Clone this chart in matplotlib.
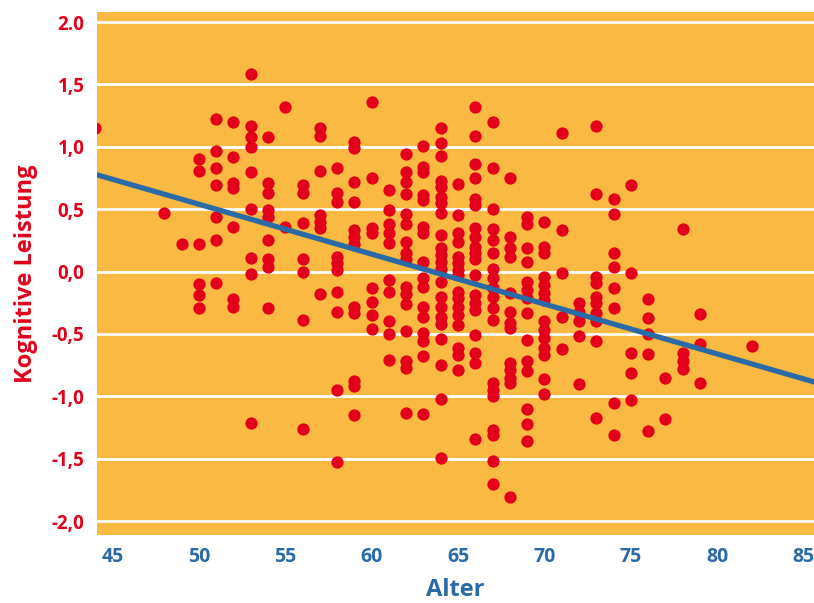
import numpy as np
import matplotlib
matplotlib.use("Agg")
import matplotlib.pyplot as plt

# Werte: je Alter die Werte der kognitiven Leistung
alter_gruppen = [44, 48, 49, 50, 51, 52, 53, 54, 55, 56, 57, 58, 59, 60, 61,
                 62, 63, 64, 65, 66, 67, 68, 69, 70, 71, 72, 73, 74, 75, 76,
                 77, 78, 79, 82]
leistung_gruppen = [
    [1.15],
    [0.47],
    [0.22],
    [0.90, 0.81, 0.22, -0.10, -0.19, -0.29],
    [1.22, 0.97, 0.83, 0.69, 0.44, 0.25, -0.09],
    [1.20, 0.92, 0.71, 0.67, 0.36, -0.22, -0.28],
    [1.58, 1.17, 1.08, 1.00, 0.80, 0.50, 0.11, -0.02, -1.21],
    [1.08, 0.71, 0.63, 0.49, 0.44, 0.25, 0.10, 0.04, -0.29],
    [1.32, 0.36],
    [0.69, 0.63, 0.39, 0.10, 0.00, -0.39, -1.26],
    [1.15, 1.09, 0.81, 0.45, 0.40, 0.35, -0.18],
    [0.83, 0.63, 0.56, 0.12, 0.07, 0.01, -0.16, -0.32, -0.95, -1.53],
    [1.04, 0.99, 0.72, 0.56, 0.33, 0.28, 0.22, -0.28, -0.33, -0.88, -0.92,
     -1.15],
    [1.36, 0.75, 0.35, 0.31, -0.13, -0.24, -0.35, -0.46],
    [0.65, 0.49, 0.38, 0.31, 0.23, -0.07, -0.16, -0.40, -0.50, -0.71],
    [0.94, 0.80, 0.72, 0.62, 0.46, 0.38, 0.24, 0.15, 0.10, -0.12, -0.18,
     -0.26, -0.48, -0.72, -0.77, -1.13],
    [1.01, 0.84, 0.80, 0.61, 0.57, 0.36, 0.31, 0.08, -0.05, -0.12, -0.28,
     -0.36, -0.49, -0.56, -0.68, -1.14],
    [1.15, 1.03, 0.93, 0.73, 0.68, 0.60, 0.55, 0.47, 0.29, 0.19, 0.13, 0.08,
     0.02, -0.08, -0.20, -0.28, -0.36, -0.42, -0.54, -0.75, -1.02, -1.49],
    [0.70, 0.45, 0.31, 0.24, 0.12, 0.07, 0.01, -0.03, -0.16, -0.21, -0.28,
     -0.35, -0.43, -0.61, -0.67, -0.79],
    [1.32, 1.09, 0.86, 0.75, 0.58, 0.53, 0.35, 0.28, 0.20, 0.15, 0.10, -0.03,
     -0.19, -0.25, -0.31, -0.51, -0.65, -0.73, -1.34],
    [1.20, 0.83, 0.50, 0.34, 0.25, 0.15, 0.02, -0.05, -0.13, -0.20, -0.29,
     -0.39, -0.89, -0.95, -1.00, -1.27, -1.31, -1.52, -1.70],
    [0.75, 0.28, 0.19, 0.12, -0.17, -0.32, -0.41, -0.45, -0.73, -0.79, -0.85,
     -0.89, -1.81],
    [0.44, 0.38, 0.19, 0.08, -0.08, -0.15, -0.21, -0.33, -0.55, -0.72, -0.80,
     -1.10, -1.22, -1.36],
    [0.40, 0.20, 0.15, -0.04, -0.11, -0.17, -0.23, -0.40, -0.47, -0.53, -0.61,
     -0.67, -0.86, -0.98],
    [1.11, 0.33, -0.01, -0.36, -0.62],
    [-0.25, -0.32, -0.40, -0.52, -0.90],
    [1.17, 0.62, -0.04, -0.09, -0.20, -0.25, -0.33, -0.40, -0.56, -1.17],
    [0.58, 0.46, 0.15, 0.04, -0.13, -0.29, -1.05, -1.31],
    [0.69, -0.01, -0.65, -0.81, -1.03],
    [-0.22, -0.37, -0.50, -0.66, -1.28],
    [-0.85, -1.18],
    [0.34, -0.65, -0.72, -0.78],
    [-0.34, -0.58, -0.89],
    [-0.60],
]

# Regressionsgerade
achsenabschnitt = 2.54
steigung = -0.040

x_ticks = [45, 50, 55, 60, 65, 70, 75, 80, 85]
y_ticks = [2.0, 1.5, 1.0, 0.5, 0.0, -0.5, -1.0, -1.5, -2.0]
y_ticklabels = ["2.0", "1,5", "1,0", "0,5", "0,0", "-0,5", "-1,0", "-1,5", "-2,0"]

rot = "#e2001a"
blau = "#2a6aa6"
orange = "#f9b942"

alter = []
leistung = []
for a, werte in zip(alter_gruppen, leistung_gruppen):
    alter += [a] * len(werte)
    leistung += werte

plt.rcParams["font.family"] = ["Open Sans", "DejaVu Sans"]

fig = plt.figure(figsize=(8.14, 6.03), dpi=100)
ax = fig.add_axes([0.119, 0.113, 0.881, 0.867])
ax.set_facecolor(orange)

ax.scatter(alter, leistung, s=78, color=rot, zorder=3, linewidths=0)

xl = np.array([43, 87])
ax.plot(xl, achsenabschnitt + steigung * xl, color=blau, lw=3.8, zorder=4,
        solid_capstyle="butt")

ax.set_xlim(44.1, 85.6)
ax.set_ylim(-2.11, 2.08)
for yv in y_ticks:
    ax.axhline(yv, color="white", lw=2, zorder=1)

for s in ax.spines.values():
    s.set_visible(False)
ax.tick_params(length=0)
ax.set_xticks(x_ticks)
ax.set_xticklabels([str(v) for v in x_ticks], color=blau, fontsize=14,
                   fontweight="bold")
ax.set_yticks(y_ticks)
ax.set_yticklabels(y_ticklabels, color=rot, fontsize=13.5, fontweight="bold")
ax.tick_params(axis="x", pad=9)
ax.tick_params(axis="y", pad=9)

ax.set_xlabel("Alter", color=blau, fontsize=17, fontweight="bold", labelpad=8)
ax.set_ylabel("Kognitive Leistung", color=rot, fontsize=17, fontweight="bold",
              labelpad=10)

fig.savefig("out.png", dpi=100, facecolor="white")
